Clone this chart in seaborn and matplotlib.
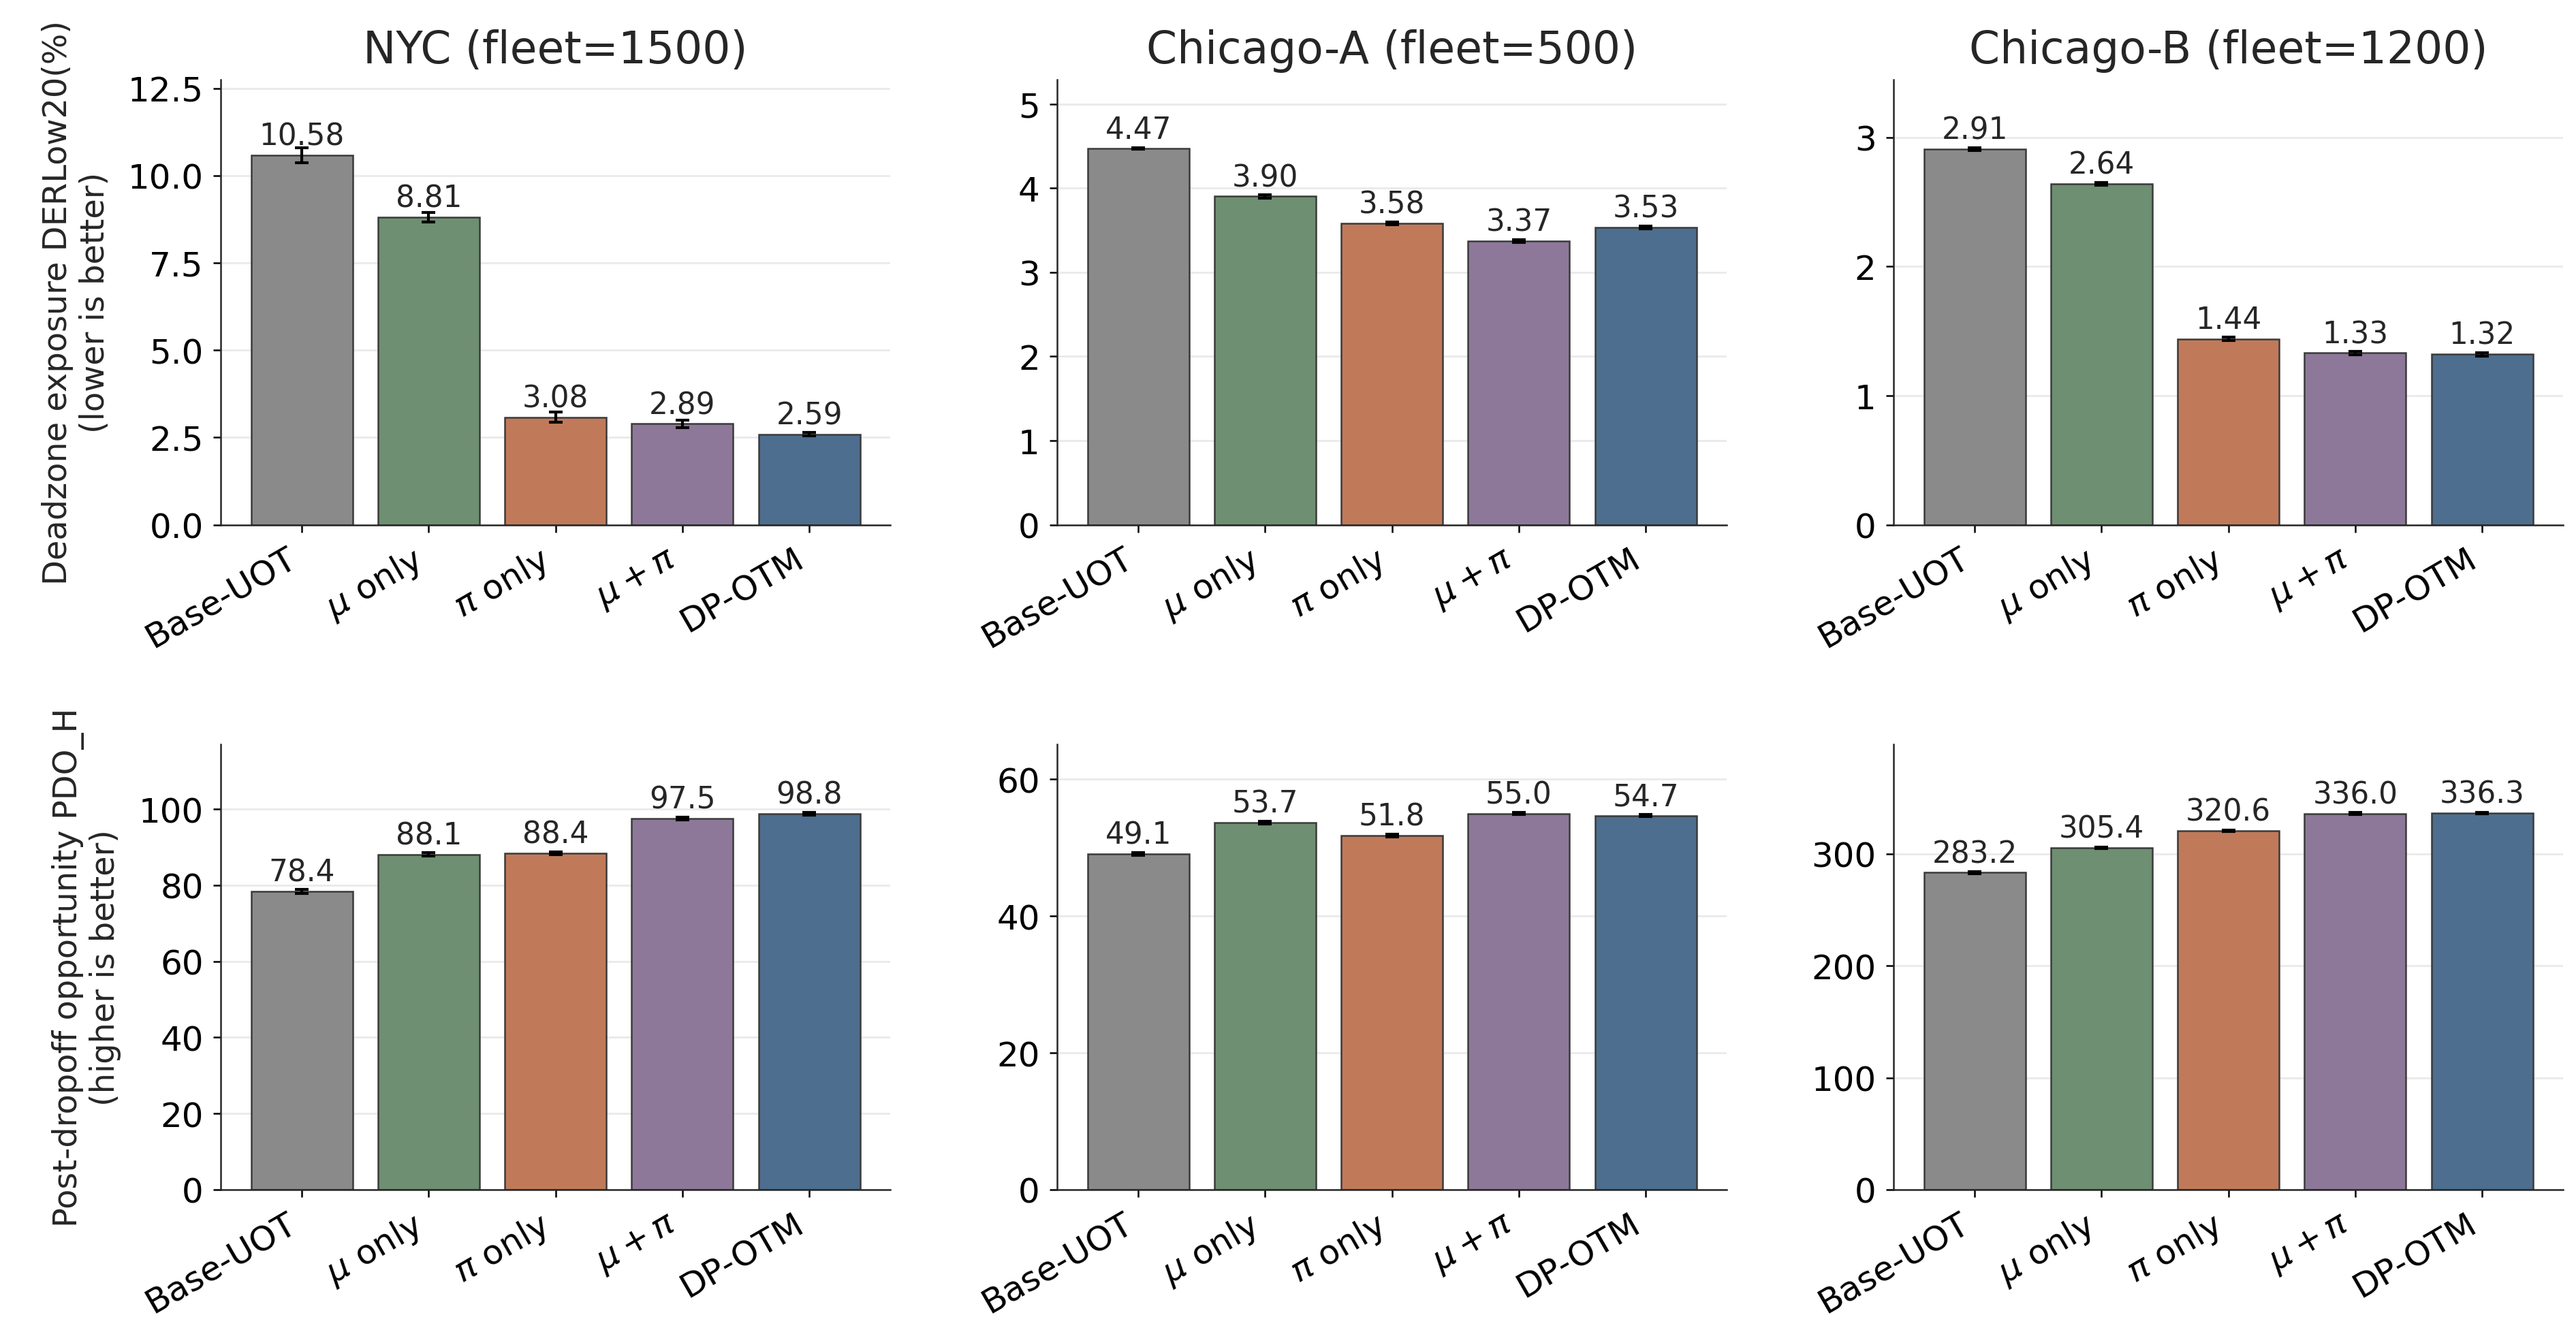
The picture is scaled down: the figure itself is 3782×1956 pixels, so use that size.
import numpy as np
import pandas as pd
import seaborn as sns
import matplotlib.pyplot as plt
from matplotlib.container import BarContainer

methods = ['Base-UOT', r'$\mu$ only', r'$\pi$ only', r'$\mu+\pi$', 'DP-OTM']
colors = ['#8a8a8a', '#6e8f72', '#c07a5a', '#8d7899', '#4d6e8e']
cities = ['NYC (fleet=1500)', 'Chicago-A (fleet=500)', 'Chicago-B (fleet=1200)']

# deadzone exposure (top row)
der_nyc = [10.58, 8.81, 3.08, 2.89, 2.59]
der_nyc_err = [0.22, 0.14, 0.15, 0.10, 0.05]
der_chia = [4.47, 3.90, 3.58, 3.37, 3.53]
der_chia_err = [0.01, 0.02, 0.015, 0.02, 0.015]
der_chib = [2.91, 2.64, 1.44, 1.33, 1.32]
der_chib_err = [0.01, 0.01, 0.015, 0.012, 0.012]

# post-dropoff opportunity (bottom row)
pdo_nyc = [78.4, 88.1, 88.4, 97.5, 98.8]
pdo_nyc_err = [0.5, 0.4, 0.4, 0.4, 0.3]
pdo_chia = [49.1, 53.7, 51.8, 55.0, 54.7]
pdo_chia_err = [0.2, 0.2, 0.2, 0.15, 0.15]
pdo_chib = [283.2, 305.4, 320.6, 336.0, 336.3]
pdo_chib_err = [1.0, 0.6, 0.8, 0.8, 0.6]

rows = [
    ([der_nyc, der_chia, der_chib], [der_nyc_err, der_chia_err, der_chib_err],
     'Deadzone exposure DERLow20(%)\n(lower is better)', '{:.2f}'),
    ([pdo_nyc, pdo_chia, pdo_chib], [pdo_nyc_err, pdo_chia_err, pdo_chib_err],
     'Post-dropoff opportunity PDO_H\n(higher is better)', '{:.1f}'),
]

sns.set_style('ticks')
plt.rcParams['font.family'] = ['DejaVu Sans']
plt.rcParams['axes.linewidth'] = 0.6
plt.rcParams['xtick.major.size'] = 2.6
plt.rcParams['ytick.major.size'] = 2.6
plt.rcParams['xtick.major.width'] = 0.6
plt.rcParams['ytick.major.width'] = 0.6

fig, axes = plt.subplots(2, 3, figsize=(12.607, 6.523), dpi=300)
fig.subplots_adjust(left=0.0857, right=0.995, top=0.9397, bottom=0.1068,
                    wspace=0.249, hspace=0.494)

for r, (vals, errs, ylab, fmt) in enumerate(rows):
    for c in range(3):
        ax = axes[r, c]
        df = pd.DataFrame({'method': methods, 'value': vals[c], 'err': errs[c]})
        sns.barplot(data=df, x='method', y='value', hue='method', palette=colors,
                    order=methods, hue_order=methods, legend=False, errorbar=None,
                    saturation=1, edgecolor='#3a3a3a', linewidth=0.6, ax=ax, zorder=2)
        for cont in ax.containers:
            if isinstance(cont, BarContainer):
                ax.bar_label(cont, fmt=fmt, padding=1.5, fontsize=10.5)
        ax.errorbar(np.arange(len(methods)), df['value'], yerr=df['err'], fmt='none',
                    ecolor='black', elinewidth=1.0, capsize=2.5, capthick=1.0, zorder=3)
        top = (df['value'] + df['err']).max() * 1.18
        ax.set_ylim(0, top)
        ax.set_xlim(-0.64, 4.64)
        ax.yaxis.grid(True, color='#ebebeb', linewidth=0.7, zorder=0)
        ax.set_axisbelow(True)
        ax.set_xlabel('')
        ax.set_ylabel(ylab if c == 0 else '', fontsize=11.5, labelpad=6)
        ax.tick_params(axis='both', labelsize=12, colors='black')
        ax.set_xticks(range(len(methods)))
        ax.set_xticklabels(methods, rotation=30, ha='right')
        if r == 0:
            ax.set_title(cities[c], fontsize=15.5)
        sns.despine(ax=ax)

fig.savefig('out.png', dpi=300)
